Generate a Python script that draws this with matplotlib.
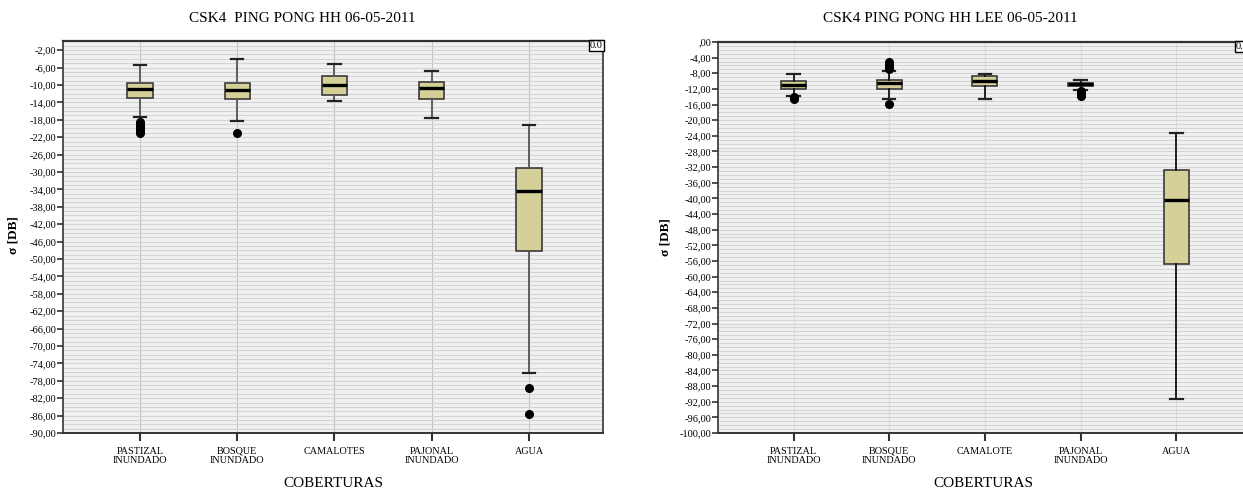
import matplotlib
matplotlib.use("Agg")
import matplotlib.pyplot as plt
from matplotlib.ticker import FixedLocator, MultipleLocator, FuncFormatter

plt.rcParams['font.family'] = ['Liberation Serif', 'DejaVu Serif']

# ---- HH panel ----
title_hh = "CSK4  PING PONG HH 06-05-2011"
cats_hh = ["PASTIZAL\nINUNDADO", "BOSQUE\nINUNDADO", "CAMALOTES", "PAJONAL\nINUNDADO", "AGUA"]
whislo_hh = [-17.3, -18.3, -13.7, -17.5, -76.3]
q1_hh = [-12.9, -13.3, -12.3, -13.2, -48.1]
med_hh = [-10.95, -11.1, -9.9, -10.6, -34.4]
q3_hh = [-9.5, -9.5, -7.9, -9.35, -29.1]
whishi_hh = [-5.45, -4.05, -5.3, -6.8, -19.1]
fliers_hh = [[-18.5, -19.0, -19.5, -20.0, -20.5, -21.0], [-21.0], [], [], [-79.7, -85.6]]
yticks_hh = list(range(-2, -91, -4))

# ---- HH LEE panel ----
title_lee = "CSK4 PING PONG HH LEE 06-05-2011"
cats_lee = ["PASTIZAL\nINUNDADO", "BOSQUE\nINUNDADO", "CAMALOTE", "PAJONAL\nINUNDADO", "AGUA"]
whislo_lee = [-13.7, -14.5, -14.5, -12.2, -91.2]
q1_lee = [-11.9, -11.9, -11.2, -11.2, -56.9]
med_lee = [-10.9, -10.6, -10.0, -10.8, -40.5]
q3_lee = [-10.05, -9.6, -8.8, -10.5, -32.8]
whishi_lee = [-8.3, -7.5, -8.3, -9.6, -23.2]
fliers_lee = [[-14.0, -14.4, -14.7], [-5.0, -5.5, -6.0, -6.5, -7.0, -15.9], [],
              [-12.6, -13.0, -13.4, -13.8], []]
yticks_lee = list(range(0, -101, -4))

BOX_FILL = "#d5cf98"
W, H = 1243, 490


def fmt(v, _pos=None):
    s = f"{v:.2f}".replace(".", ",")
    if s.startswith("0,"):
        s = s[1:]
    if s.startswith("-0,"):
        s = s[0] + s[2:]
    return s


def panel(rect_px, cats, lo, q1, med, q3, hi, fl, yticks, ylim, whisk_col, vgrid_col):
    l, r, t, b = rect_px
    ax = fig.add_axes([l / W, (H - b) / H, (r - l) / W, (b - t) / H])
    stats = []
    for i, c in enumerate(cats):
        stats.append(dict(label=c, whislo=lo[i], q1=q1[i], med=med[i], q3=q3[i],
                          whishi=hi[i], fliers=fl[i]))
    pos = list(range(1, len(cats) + 1))
    ax.bxp(stats, positions=pos, widths=0.26, patch_artist=True, showfliers=True,
           boxprops=dict(facecolor=BOX_FILL, edgecolor="#3a3a3a", linewidth=1.2),
           medianprops=dict(color="black", linewidth=2.4),
           whiskerprops=dict(color=whisk_col, linewidth=1.3),
           capprops=dict(color="#222222", linewidth=1.6),
           capwidths=0.13,
           flierprops=dict(marker="o", markerfacecolor="black", markeredgecolor="black",
                           markersize=5.5, linestyle="none"),
           zorder=3)
    ax.set_xlim(0.21, 5.76)
    ax.set_ylim(*ylim)
    ax.set_facecolor("#f1f1f1")
    ax.yaxis.set_major_locator(FixedLocator(yticks))
    ax.yaxis.set_minor_locator(MultipleLocator(1))
    ax.yaxis.set_major_formatter(FuncFormatter(fmt))
    ax.grid(axis="y", which="both", color="#d4d4d4", linewidth=0.8, zorder=0)
    ax.grid(axis="x", which="major", color=vgrid_col, linewidth=0.8, zorder=0)
    ax.set_axisbelow(True)
    ax.tick_params(axis="y", which="major", direction="out", length=4, width=1.2,
                   color="#333333", labelsize=7.5, pad=1)
    ax.tick_params(axis="y", which="minor", length=0)
    ax.tick_params(axis="x", direction="out", length=6, width=1.5, color="#333333",
                   labelsize=7.3, pad=4)
    for lab in ax.get_xticklabels():
        lab.set_linespacing(1.0)
    for side, lw in (("top", 1.6), ("right", 1.2), ("left", 1.2), ("bottom", 1.4)):
        ax.spines[side].set_color("#333333")
        ax.spines[side].set_linewidth(lw)
    ax.text(1.0, 1.0, "0.0", transform=ax.transAxes, ha="right", va="top", fontsize=7.5,
            bbox=dict(boxstyle="square,pad=0.12", facecolor="white", edgecolor="black",
                      linewidth=1.0), zorder=5)
    ax.set_xlabel("COBERTURAS", fontsize=11, labelpad=9)
    return ax


fig = plt.figure(figsize=(W / 100, H / 100), dpi=100)

ax1 = panel((63, 603, 41, 433), cats_hh, whislo_hh, q1_hh, med_hh, q3_hh, whishi_hh,
            fliers_hh, yticks_hh, (-90, 0.1), "#555555", "#c4c4c4")
ax2 = panel((718, 1249, 42, 433), cats_lee, whislo_lee, q1_lee, med_lee, q3_lee, whishi_lee,
            fliers_lee, yticks_lee, (-100, 0), "#111111", "#dcdcdc")

fig.text(302 / W, 1 - 19 / H, title_hh, ha="center", va="center", fontsize=11)
fig.text(950 / W, 1 - 19 / H, title_lee, ha="center", va="center", fontsize=11)

fig.text(14 / W, 1 - 235 / H, "σ [DB]", rotation=90, ha="center", va="center",
         fontsize=9.5, fontweight="bold")
fig.text(666 / W, 1 - 237 / H, "σ [DB]", rotation=90, ha="center", va="center",
         fontsize=9.5, fontweight="bold")

fig.savefig("out.png", dpi=100)
